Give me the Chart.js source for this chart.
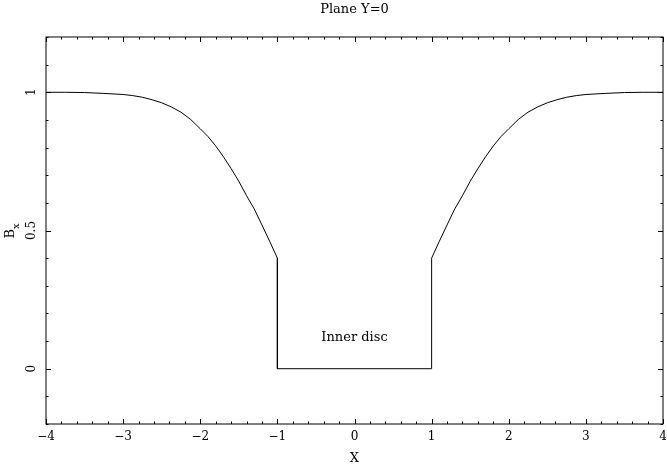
<!DOCTYPE html>
<html>
<head>
<meta charset="utf-8">
<script src="https://cdn.jsdelivr.net/npm/chart.js@4"></script>
<style>
  html, body { margin: 0; padding: 0; background: #fff; }
  #wrap { width: 667px; height: 468px; }
</style>
</head>
<body>
<div id="wrap"><canvas id="bxChart"></canvas></div>
<script>
// Bx along the plane Y=0
const xValues = [-4, -3.75, -3.5, -3.25, -3, -2.875, -2.75, -2.625, -2.5, -2.375, -2.25, -2.125, -2, -1.9, -1.8, -1.7, -1.6, -1.5, -1.4, -1.3, -1.2, -1.1, -1, -1,
                 1, 1, 1.1, 1.2, 1.3, 1.4, 1.5, 1.6, 1.7, 1.8, 1.9, 2, 2.125, 2.25, 2.375, 2.5, 2.625, 2.75, 2.875, 3, 3.25, 3.5, 3.75, 4];
const bxValues = [1.000, 1.000, 0.999, 0.996, 0.992, 0.988, 0.982, 0.973, 0.962, 0.947, 0.928, 0.902, 0.868, 0.840, 0.806, 0.767, 0.724, 0.678, 0.626, 0.578, 0.520, 0.461, 0.400, 0,
                  0, 0.400, 0.461, 0.520, 0.578, 0.626, 0.678, 0.724, 0.767, 0.806, 0.840, 0.868, 0.902, 0.928, 0.947, 0.962, 0.973, 0.982, 0.988, 0.992, 0.996, 0.999, 1.000, 1.000];

const xTicks = [-4, -3, -2, -1, 0, 1, 2, 3, 4];
const xTickLabels = ['\u22124', '\u22123', '\u22122', '\u22121', '0', '1', '2', '3', '4'];
const yTicks = [0, 0.5, 1];
const yTickLabels = ['0', '0.5', '1'];

const titleText = 'Plane Y=0';
const xTitle = 'X';
const noteText = 'Inner disc';
const notePos = [0, 0.112];

const serif = '"DejaVu Serif", "Liberation Serif", serif';

// PGPLOT-style frame: box, inward ticks on all sides, rotated y labels
const framePlugin = {
    id: 'frame',
    afterDraw(chart) {
        const ctx = chart.ctx;
        const a = chart.chartArea;
        const xs = chart.scales.x;
        const ys = chart.scales.y;
        ctx.save();
        ctx.strokeStyle = '#000';
        ctx.fillStyle = '#000';
        ctx.lineWidth = 1;
        ctx.strokeRect(a.left, a.top, a.right - a.left, a.bottom - a.top);

        ctx.beginPath();
        for (let i = -40; i <= 40; i += 2) {
            const v = i / 10;
            const px = Math.round(xs.getPixelForValue(v)) + 0.5;
            const len = (i % 10 === 0) ? 5 : 2.5;
            ctx.moveTo(px, a.bottom); ctx.lineTo(px, a.bottom - len);
            ctx.moveTo(px, a.top); ctx.lineTo(px, a.top + len);
        }
        for (let i = -2; i <= 12; i++) {
            const v = i / 10;
            const py = Math.round(ys.getPixelForValue(v)) + 0.5;
            const len = (i % 5 === 0) ? 5 : 2.5;
            ctx.moveTo(a.left, py); ctx.lineTo(a.left + len, py);
            ctx.moveTo(a.right, py); ctx.lineTo(a.right - len, py);
        }
        ctx.stroke();

        // x tick labels
        ctx.font = '12px ' + serif;
        ctx.textAlign = 'center';
        ctx.textBaseline = 'middle';
        xTicks.forEach((v, i) => {
            ctx.fillText(xTickLabels[i], xs.getPixelForValue(v), 437);
        });

        // y tick labels, rotated
        yTicks.forEach((v, i) => {
            ctx.save();
            ctx.translate(32, ys.getPixelForValue(v));
            ctx.rotate(-Math.PI / 2);
            ctx.fillText(yTickLabels[i], 0, 0);
            ctx.restore();
        });

        // y title B_x
        ctx.save();
        ctx.translate(11, 231);
        ctx.rotate(-Math.PI / 2);
        ctx.font = '13px ' + serif;
        ctx.textAlign = 'left';
        const bw = ctx.measureText('B').width;
        ctx.font = '10px ' + serif;
        const sw = ctx.measureText('x').width;
        const start = -(bw + sw) / 2;
        ctx.font = '13px ' + serif;
        ctx.fillText('B', start, 0);
        ctx.font = '10px ' + serif;
        ctx.fillText('x', start + bw, 5);
        ctx.restore();

        // x title
        ctx.font = '13px ' + serif;
        ctx.textAlign = 'center';
        ctx.fillText(xTitle, xs.getPixelForValue(0), 459);

        // title
        ctx.fillText(titleText, (a.left + a.right) / 2, 10);

        // annotation
        ctx.fillText(noteText, xs.getPixelForValue(notePos[0]), ys.getPixelForValue(notePos[1]));
        ctx.restore();
    }
};

const ctx = document.getElementById('bxChart').getContext('2d');
new Chart(ctx, {
    type: 'line',
    data: {
        datasets: [{
            label: 'Bx',
            data: xValues.map((x, i) => ({ x: x, y: bxValues[i] })),
            borderColor: '#000',
            borderWidth: 1,
            pointRadius: 0,
            tension: 0,
            fill: false
        }]
    },
    options: {
        responsive: true,
        maintainAspectRatio: false,
        animation: false,
        layout: { padding: { left: 46, top: 37, right: 4, bottom: 44 } },
        scales: {
            x: { type: 'linear', min: -4, max: 4, display: false },
            y: { type: 'linear', min: -0.2, max: 1.2, display: false }
        },
        plugins: {
            legend: { display: false },
            title: { display: false },
            tooltip: { enabled: false }
        }
    },
    plugins: [framePlugin]
});
</script>
</body>
</html>
